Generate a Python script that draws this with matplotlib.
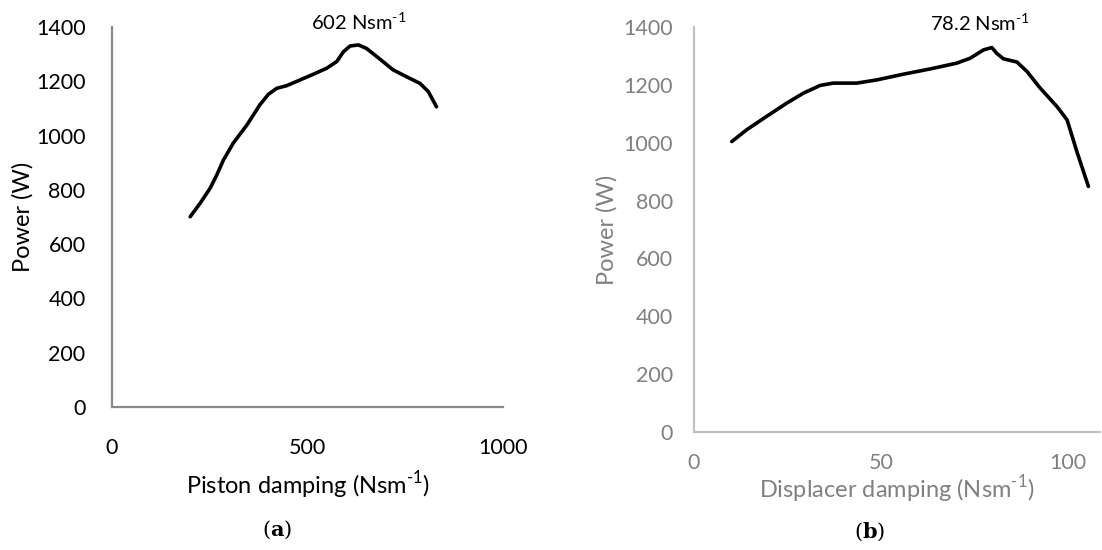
import matplotlib
matplotlib.use("Agg")
import matplotlib.pyplot as plt

# (a) piston damping sweep
piston_x = [200, 225, 251, 268, 285, 310, 345, 378, 400, 421, 447, 481, 515, 549, 575, 592,
            609, 630, 651, 685, 719, 753, 788, 809, 830]
piston_p = [701, 750, 806, 855, 910, 972, 1039, 1113, 1152, 1174, 1184, 1205, 1226, 1248, 1273, 1309,
            1330, 1334, 1321, 1282, 1242, 1217, 1192, 1162, 1106]

# (b) displacer damping sweep
disp_x = [10.1, 14.1, 19.4, 24.8, 29.2, 33.7, 37.2, 43.5, 48.8, 56, 63.1, 70.2, 73.8, 77.4,
          79.6, 80.9, 82.7, 86.3, 89, 92.5, 97, 99.7, 102.3, 105.4]
disp_p = [1004, 1045, 1091, 1137, 1171, 1198, 1206, 1206, 1217, 1237, 1255, 1275, 1292, 1321,
          1329, 1309, 1290, 1279, 1246, 1189, 1125, 1079, 970, 849]

yticks = [0, 200, 400, 600, 800, 1000, 1200, 1400]

plt.rcParams['font.family'] = ['Lato', 'DejaVu Sans']
plt.rcParams['mathtext.fontset'] = 'custom'
plt.rcParams['mathtext.rm'] = 'Lato'
plt.rcParams['mathtext.bf'] = 'DejaVu Serif:bold'

fig = plt.figure(figsize=(11.02, 5.5), dpi=100)
ax1 = fig.add_axes([112/1102, 143/550, 391/1102, 380/550])
ax2 = fig.add_axes([694/1102, 118/550, 406/1102, 405/550])

def style(ax, text_col, line_col, xpad, ypad):
    for s in ["top", "right"]:
        ax.spines[s].set_visible(False)
    for s in ["left", "bottom"]:
        ax.spines[s].set_color(line_col)
        ax.spines[s].set_linewidth(1.6)
    ax.tick_params(length=0, labelsize=15.5, colors=text_col)
    ax.tick_params(axis="x", pad=xpad)
    ax.tick_params(axis="y", pad=ypad)
    ax.set_yticks(yticks)
    ax.set_ylim(0, 1400)

unit = r"Nsm$^{\text{-1}}$"

ax1.plot(piston_x, piston_p, color="black", lw=2.6, solid_capstyle="round", solid_joinstyle="round")
style(ax1, "black", "#898989", 22, 19)
ax1.set_xlim(0, 1000)
ax1.set_xticks([0, 500, 1000])
ax1.set_xlabel("Piston damping (" + unit + ")", fontsize=17, labelpad=8)
ax1.set_ylabel("Power (W)", fontsize=17, labelpad=2)
ax1.text(630, 1418, "602 " + unit, ha="center", va="center", fontsize=14.5, clip_on=False)

ax2.plot(disp_x, disp_p, color="black", lw=2.6, solid_capstyle="round", solid_joinstyle="round")
style(ax2, "#808080", "#c0c0c0", 15, 15)
ax2.set_xlim(0, 108.5)
ax2.set_xticks([0, 50, 100])
ax2.set_xlabel("Displacer damping (" + unit + ")", fontsize=17, color="#808080", labelpad=0)
ax2.set_ylabel("Power (W)", fontsize=17, color="#808080", labelpad=4)
ax2.text(76.5, 1414, "78.2 " + unit, ha="center", va="center", fontsize=14.5, clip_on=False)

fig.text(277/1102, 1 - 530/550, r"($\mathbf{a}$)", ha="center", va="center", fontsize=15, family="DejaVu Serif")
fig.text(870/1102, 1 - 532/550, r"($\mathbf{b}$)", ha="center", va="center", fontsize=15, family="DejaVu Serif")

fig.savefig("out.png", dpi=100)
